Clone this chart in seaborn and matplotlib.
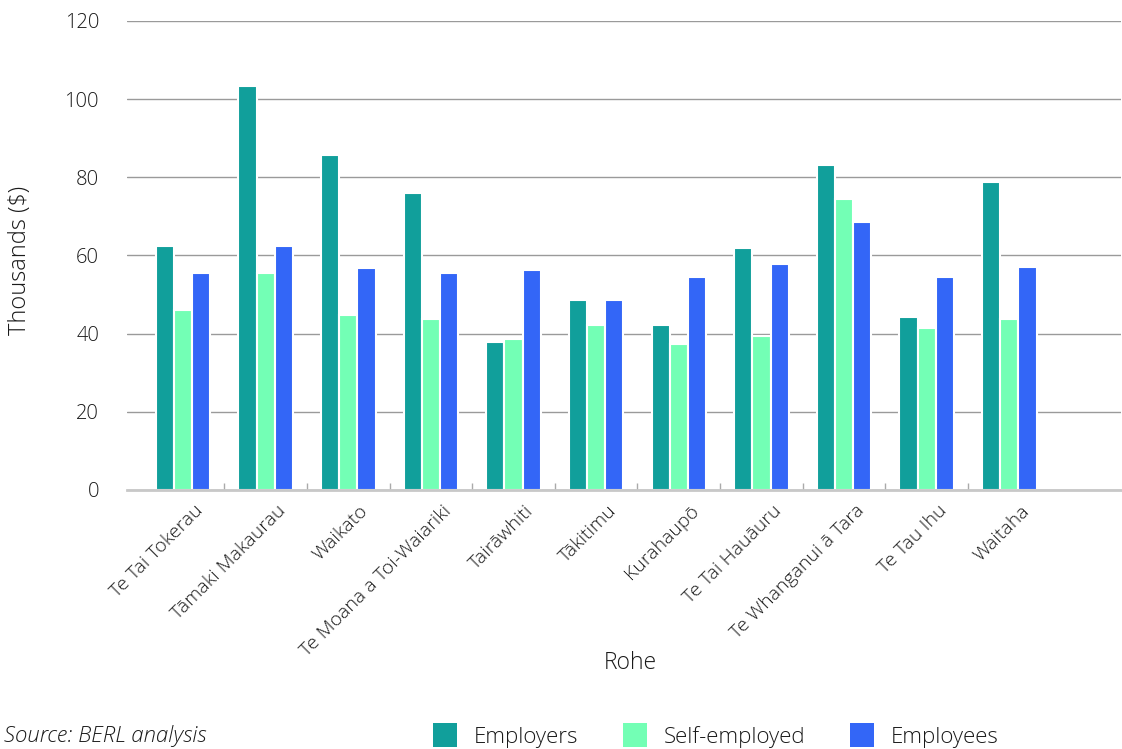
import matplotlib
matplotlib.use("Agg")
import matplotlib.pyplot as plt
import matplotlib.transforms as mtransforms
import seaborn as sns
import pandas as pd
from matplotlib.patches import Patch

rohe = ["Te Tai Tokerau", "Tāmaki Makaurau", "Waikato", "Te Moana a Toi-Waiariki",
        "Tairāwhiti", "Tākitimu", "Kurahaupō", "Te Tai Hauāuru",
        "Te Whanganui ā Tara", "Te Tau Ihu", "Waitaha"]
employers = [62.4, 103.3, 85.6, 76.0, 37.9, 48.5, 42.3, 61.8, 83.2, 44.2, 78.9]
self_employed = [46.1, 55.5, 44.8, 43.7, 38.6, 42.2, 37.4, 39.4, 74.5, 41.5, 43.6]
employees = [55.5, 62.4, 56.8, 55.5, 56.2, 48.5, 54.4, 57.7, 68.5, 54.4, 57.1]
series = ["Employers", "Self-employed", "Employees"]
colors = ["#119F9B", "#73FFB5", "#3366F7"]
yticks = [0, 20, 40, 60, 80, 100, 120]

df = pd.DataFrame({
    "Rohe": rohe * 3,
    "Type": [series[0]] * 11 + [series[1]] * 11 + [series[2]] * 11,
    "Value": employers + self_employed + employees,
})

sns.set_theme(style="white")
plt.rcParams["font.family"] = ["Open Sans", "DejaVu Sans"]
plt.rcParams["font.weight"] = "light"
plt.rcParams["axes.labelweight"] = "light"
txtc = "#1a1a1a"

fig = plt.figure(figsize=(11.22, 7.49), dpi=100)
ax = fig.add_axes([0.113, 0.346, 0.886, 0.626])

sns.barplot(data=df, x="Rohe", y="Value", hue="Type", palette=colors,
            order=rohe, hue_order=series, width=0.66, gap=0.0, saturation=1,
            edgecolor="white", linewidth=1.5, ax=ax, legend=False, zorder=3)

ax.set_ylim(0, 120)
ax.set_xlim(-0.68, 11.35)
ax.set_yticks(yticks)
ax.set_yticklabels([str(t) for t in yticks], fontsize=14.5, color=txtc,
                   fontweight="light")
ax.yaxis.grid(True, color="#9a9a9a", linewidth=1.0, zorder=0)
ax.set_axisbelow(True)
for s in ["top", "right", "left"]:
    ax.spines[s].set_visible(False)
ax.spines["bottom"].set_color("#c8c8c8")
ax.spines["bottom"].set_linewidth(2)
ax.spines["bottom"].set_zorder(4)
ax.tick_params(axis="y", length=0, pad=20)

ax.set_xticks(range(len(rohe)))
ax.set_xticklabels([])
ax.tick_params(axis="x", which="major", length=0)
ax.set_xticks([i + 0.5 for i in range(len(rohe) - 1)], minor=True)
ax.tick_params(axis="x", which="minor", direction="in", length=5, width=1,
               color="#aaaaaa", bottom=True)

lbl_tr = ax.get_xaxis_transform() + mtransforms.ScaledTranslation(
    11 / 100, -12 / 100, fig.dpi_scale_trans)
for i, name in enumerate(rohe):
    ax.text(i, 0, name, transform=lbl_tr, rotation=45, ha="right", va="top",
            rotation_mode="anchor", fontsize=14, color=txtc, fontweight="light")

ax.set_ylabel("Thousands ($)", fontsize=17, color=txtc, fontweight="light")
ax.yaxis.set_label_coords(-0.095, 0.49)
ax.set_xlabel("Rohe", fontsize=16.5, color=txtc, fontweight="light")
ax.xaxis.set_label_coords(0.507, -0.343)

handles = [Patch(facecolor=c, edgecolor="none") for c in colors]
leg = fig.legend(handles, series, loc="center", bbox_to_anchor=(0.638, 0.018),
                 ncol=3, frameon=False, fontsize=16, handlelength=1.1,
                 handleheight=1.3, columnspacing=2.0, handletextpad=0.75)
for t in leg.get_texts():
    t.set_color(txtc)
    t.set_fontweight("light")
fig.text(0.004, 0.018, "Source: BERL analysis", fontsize=16, style="italic",
         color=txtc, va="center", ha="left", fontweight="light")

fig.savefig("out.png", dpi=100)
